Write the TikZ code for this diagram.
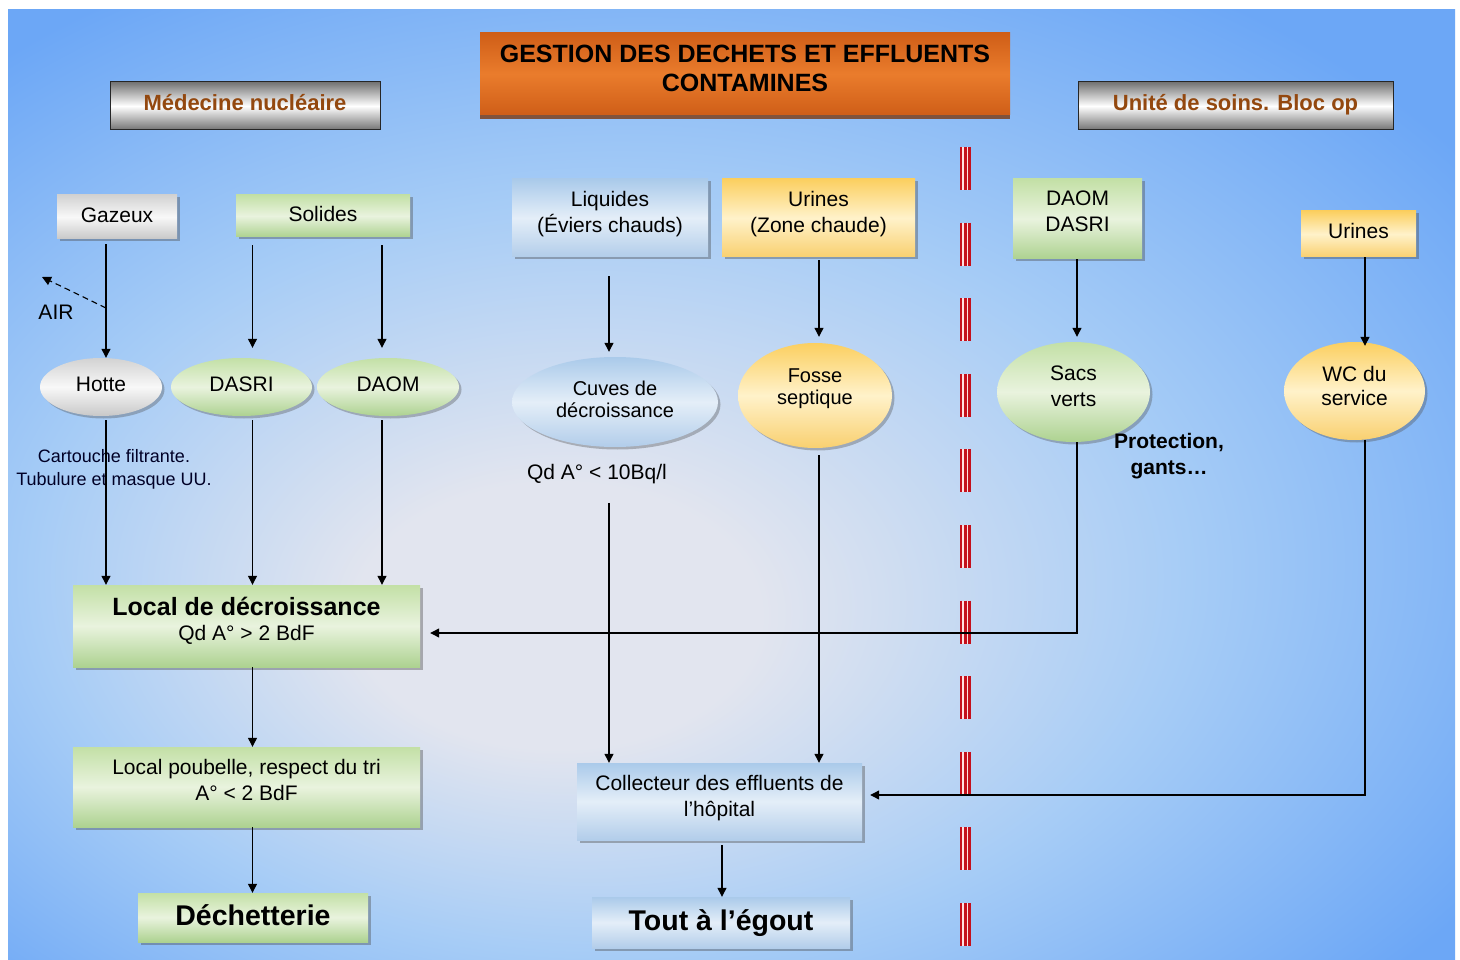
\documentclass[tikz,border=0pt]{standalone}
\usepackage{fontspec}
\setmainfont{Liberation Sans}
\usetikzlibrary{arrows.meta,shadows,shapes.geometric,calc}
\definecolor{bgE}{HTML}{6CA7F6}
\definecolor{bgM}{HTML}{A6CCF6}
\definecolor{bgC}{HTML}{E2E5EF}
\definecolor{brownT}{HTML}{93480F}
\definecolor{orA}{HTML}{CF5E18}
\definecolor{orB}{HTML}{EA7C2C}
\definecolor{grA}{HTML}{C3E0A6}
\definecolor{grB}{HTML}{E9F3DE}
\definecolor{grC}{HTML}{ADD290}
\definecolor{blA}{HTML}{AACAEA}
\definecolor{blB}{HTML}{E4EEF8}
\definecolor{blC}{HTML}{B2CDEA}
\definecolor{ylA}{HTML}{FBCF60}
\definecolor{ylB}{HTML}{FFF2CA}
\definecolor{ylC}{HTML}{F9D070}
\definecolor{gyA}{HTML}{D2D2D2}
\definecolor{gyB}{HTML}{F8F8F8}
\definecolor{gyC}{HTML}{C8C8C8}
\definecolor{sepred}{HTML}{C4101C}
\pgfdeclareradialshading{bgshade}{\pgfpoint{-7bp}{-8bp}}{color(0bp)=(bgC); color(7bp)=(bgC); color(20bp)=(bgM); color(34bp)=(bgE); color(50bp)=(bgE)}
\newcommand{\myreg}{\fontsize{21}{26}\selectfont}
\newcommand{\mybold}{\fontsize{21}{26}\selectfont\bfseries}
\newcommand{\liftx}[2]{\raisebox{#1}[\height][\depth]{\begin{tabular}{@{}c@{}}#2\end{tabular}}}
\tikzset{
  arr/.style={draw=black, line width=1.2pt, -{Triangle[length=9pt,width=9pt]}},
  plain/.style={inner sep=0pt, align=center, font=\myreg},
  box/.style={rectangle, inner sep=0pt, align=center, font=\myreg,
    drop shadow={shadow xshift=2.5pt, shadow yshift=-2.5pt, opacity=0.4, fill=black!70}},
  greenbox/.style={box, top color=grA, bottom color=grC, middle color=grB},
  bluebox/.style={box, top color=blA, bottom color=blC, middle color=blB},
  yellowbox/.style={box, top color=ylA, bottom color=ylC, middle color=ylB},
  greybox/.style={box, top color=gyA, bottom color=gyC, middle color=gyB},
  ell/.style={ellipse, inner sep=0pt, align=center, font=\myreg,
    drop shadow={shadow xshift=2.5pt, shadow yshift=-2.5pt, opacity=0.35, fill=black!70}},
  greenell/.style={ell, top color=grA, bottom color=grC, middle color=grB},
  blueell/.style={ell, top color=blA, bottom color=blC, middle color=blB},
  yellowell/.style={ell, top color=ylA, bottom color=ylC, middle color=ylB},
  greyell/.style={ell, top color=gyA, bottom color=gyC, middle color=gyB},
  header/.style={rectangle, inner sep=0pt, draw=black!85, line width=1pt,
    top color=black!55, bottom color=black!55, middle color=white,
    text=brownT, font=\fontsize{22}{26}\selectfont\bfseries},
  titlebox/.style={rectangle, inner sep=0pt, align=center,
    top color=orA, bottom color=orA, middle color=orB,
    font=\fontsize{25}{29}\selectfont\bfseries,
    drop shadow={shadow xshift=0pt, shadow yshift=-4pt, opacity=0.8, fill=orA!60!black}},
  redsep/.style={draw=sepred, dash pattern=on 43pt off 32.6pt}
}
\begin{document}
\begin{tikzpicture}[x=1pt,y=-1pt]
\useasboundingbox (0,0) rectangle (1460,960);
\fill[white] (0,0) rectangle (1460,960);
\fill[bgE] (8,10) rectangle (1455,960);
\shade[shading=bgshade] (8,10) rectangle (1455,960);

% separator
\draw[redsep, draw=red!12, line width=11pt] (965.5,147) -- (965.5,946);
\draw[redsep, line width=1.3pt] (961,147) -- (961,946);
\draw[redsep, line width=2.6pt] (965.3,147) -- (965.3,946);
\draw[redsep, line width=2.6pt] (969.5,147) -- (969.5,946);

% headers
\node[titlebox, minimum width=530pt, minimum height=82pt] (title) at (745,74) {\liftx{3pt}{GESTION DES DECHETS ET EFFLUENTS\\CONTAMINES}};
\node[header, minimum width=270pt, minimum height=48pt] (medn) at (245,106) {\liftx{1pt}{Médecine nucléaire}};
\node[header, minimum width=315pt, minimum height=48pt] (unite) at (1235.5,106) {\liftx{1pt}{Unité de soins. Bloc op}};

% sources
\node[greybox, minimum width=120pt, minimum height=44pt] (gaz) at (117,217) {\liftx{0pt}{Gazeux}};
\node[greenbox, minimum width=174pt, minimum height=42pt] (sol) at (323,216) {\liftx{0pt}{Solides}};
\node[bluebox, minimum width=196pt, minimum height=78pt] (liq) at (610,218) {\liftx{4pt}{Liquides\\(Éviers chauds)}};
\node[yellowbox, minimum width=193pt, minimum height=78pt] (urc) at (818.5,218) {\liftx{4pt}{Urines\\(Zone chaude)}};
\node[greenbox, minimum width=129pt, minimum height=80pt] (dd) at (1077.5,219) {\liftx{5.5pt}{DAOM\\DASRI}};
\node[yellowbox, minimum width=115pt, minimum height=46pt] (urs) at (1358.5,234) {\liftx{1pt}{Urines}};

% ellipses
\node[greyell, minimum width=122pt, minimum height=58pt] (hotte) at (101,387) {\liftx{1pt}{Hotte}};
\node[greenell, minimum width=141pt, minimum height=58pt] (dasri) at (241.5,387) {\liftx{1pt}{DASRI}};
\node[greenell, minimum width=142pt, minimum height=58pt] (daom) at (388,387) {\liftx{1pt}{DAOM}};
\node[blueell, minimum width=206pt, minimum height=90pt, font=\fontsize{20}{22}\selectfont] (cuves) at (615,402) {\liftx{0pt}{Cuves de\\décroissance}};
\node[yellowell, minimum width=154pt, minimum height=105pt, font=\fontsize{20}{22}\selectfont] (fosse) at (815,395.5) {\liftx{6pt}{Fosse\\septique}};
\node[greenell, minimum width=153pt, minimum height=100pt] (sacs) at (1073.5,392) {\liftx{3.5pt}{Sacs\\verts}};
\node[yellowell, minimum width=141pt, minimum height=98pt, font=\fontsize{21}{24}\selectfont] (wc) at (1354.5,391) {\liftx{2.5pt}{WC du\\service}};

% lower boxes
\node[greenbox, minimum width=347pt, minimum height=82pt] (local) at (246.5,626) {\liftx{3pt}{{\fontsize{25}{26}\selectfont\bfseries Local de décroissance}\\[-1pt]Qd A° > 2 BdF}};
\node[greenbox, minimum width=347pt, minimum height=80pt] (poub) at (246.5,787) {\liftx{4.5pt}{Local poubelle, respect du tri\\A° < 2 BdF}};
\node[greenbox, minimum width=230pt, minimum height=49pt, font=\fontsize{28.5}{32}\selectfont\bfseries] (dech) at (253,917.5) {\liftx{-1.5pt}{Déchetterie}};
\node[bluebox, minimum width=285pt, minimum height=77pt] (coll) at (719.5,801.5) {\liftx{3pt}{Collecteur des effluents de\\l’hôpital}};
\node[bluebox, minimum width=258pt, minimum height=51pt, font=\fontsize{28.5}{32}\selectfont\bfseries] (egout) at (721,922.5) {\liftx{-1.5pt}{Tout à l’égout}};

% free texts
\node[plain] (air) at (56,312) {AIR};
\node[plain, font=\fontsize{18}{23}\selectfont, text=black!85!blue] (cart) at (114,469) {Cartouche filtrante.\\Tubulure et masque UU.};
\node[plain] (qd) at (597,474) {Qd A° < 10Bq/l};
\node[plain, font=\mybold] (prot) at (1169,456) {Protection,\\gants…};

% columns
\coordinate (cG) at (106,0);
\coordinate (cA) at (252.5,0);
\coordinate (cB) at (382,0);
\coordinate (cL) at (609,0);
\coordinate (cU) at (819,0);
\coordinate (cS) at (1077,0);
\coordinate (cW) at (1365,0);
\coordinate (cE) at (722,0);
\coordinate (airS) at (106,308);
\coordinate (airE) at (42,277);

% arrows
\draw[arr, shorten <=5pt] (gaz.south -| cG) -- (hotte.north -| cG);
\draw[arr, line width=1.1pt, dash pattern=on 6pt off 4pt] (airS) -- (airE);
\draw[arr, shorten <=8pt, shorten >=10pt] (sol.south -| cA) -- (dasri.north -| cA);
\draw[arr, shorten <=8pt, shorten >=10pt] (sol.south -| cB) -- (daom.north -| cB);
\draw[arr, shorten <=4pt] (hotte.south -| cG) -- (local.north -| cG);
\draw[arr, shorten <=4pt] (dasri.south -| cA) -- (local.north -| cA);
\draw[arr, shorten <=4pt] (daom.south -| cB) -- (local.north -| cB);
\draw[arr, shorten <=19pt, shorten >=5pt] (liq.south -| cL) -- (cuves.north -| cL);
\draw[arr, shorten <=3pt, shorten >=6pt] (urc.south -| cU) -- (fosse.north -| cU);
\draw[arr, shorten <=19pt] (qd.south -| cL) -- (coll.north -| cL);
\draw[arr, shorten <=7pt] (fosse.south -| cU) -- (coll.north -| cU);
\draw[arr, shorten >=5pt] (dd.south -| cS) -- (sacs.north -| cS);
\draw[arr, shorten >=10pt] (sacs.south -| cS) |- ([yshift=-7pt]local.east);
\draw[arr] (urs.south -| cW) -- ([yshift=-4pt]wc.north -| cW);
\draw[arr, shorten >=8pt] (wc.south -| cW) |- ([yshift=6.5pt]coll.east);
\draw[arr] (local.south -| cA) -- (poub.north -| cA);
\draw[arr] (poub.south -| cA) -- (dech.north -| cA);
\draw[arr, shorten <=5pt] (coll.south -| cE) -- (egout.north -| cE);
\end{tikzpicture}
\end{document}
